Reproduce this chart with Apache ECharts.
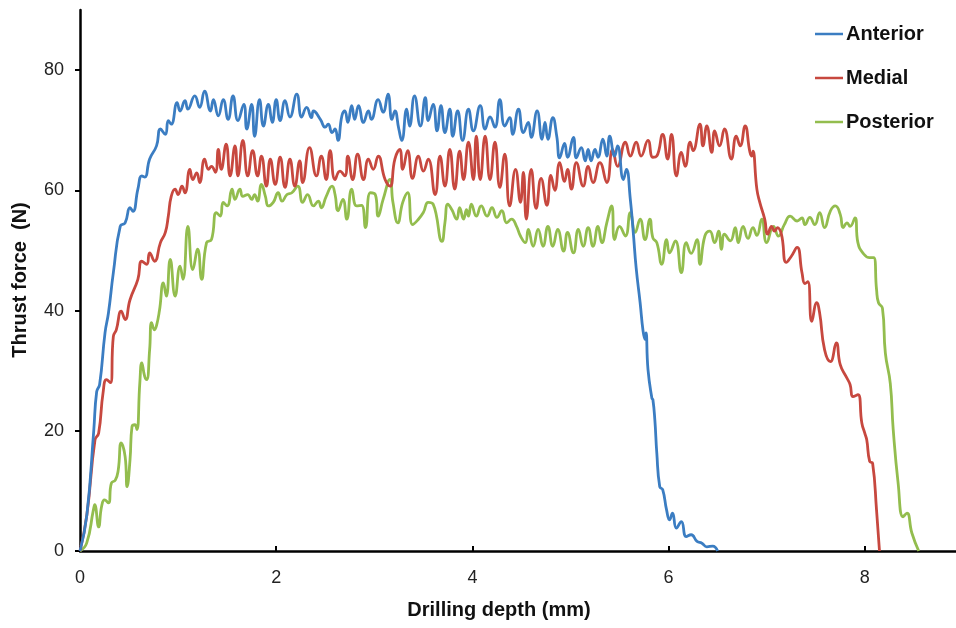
<!DOCTYPE html>
<html>
<head>
<meta charset="utf-8">
<script src="https://cdn.jsdelivr.net/npm/echarts@6/dist/echarts.min.js"></script>
<style>html,body{margin:0;padding:0;background:#fff}#c{width:956px;height:628px}</style>
</head>
<body>
<div id="c"></div>
<script>
var seriesNames = ['Anterior', 'Medial', 'Posterior'];
var xTicks = [0, 2, 4, 6, 8];
var yTicks = [0, 20, 40, 60, 80];

var anteriorDepth = [0,0.07,0.14,0.17,0.2,0.255,0.29,0.34,0.41,0.46,0.51,0.54,0.59,0.63,0.66,0.71,0.78,0.82,0.87,0.90,0.93,0.99,1.02,1.07,1.10,1.17,1.22,1.27,1.33,1.36,1.41,1.46,1.51,1.56,1.61,1.67,1.70,1.75,1.78,1.83,1.87,1.92,1.96,2.0,2.04,2.09,2.14,2.21,2.26,2.31,2.36,2.38,2.45,2.50,2.53,2.57,2.60,2.63,2.67,2.70,2.73,2.77,2.80,2.84,2.89,2.94,2.97,3.04,3.09,3.14,3.18,3.21,3.25,3.28,3.33,3.36,3.41,3.47,3.52,3.55,3.60,3.64,3.68,3.72,3.77,3.80,3.85,3.90,3.96,4.01,4.08,4.13,4.18,4.23,4.28,4.33,4.38,4.41,4.47,4.52,4.57,4.60,4.66,4.71,4.74,4.77,4.82,4.86,4.89,4.94,4.97,5.03,5.06,5.11,5.15,5.18,5.21,5.25,5.28,5.33,5.37,5.40,5.45,5.48,5.54,5.57,5.61,5.64,5.67,5.71,5.74,5.76,5.77,5.79,5.83,5.84,5.86,5.88,5.91,5.94,5.98,6.01,6.04,6.08,6.13,6.18,6.23,6.29,6.34,6.39,6.45,6.50];
var anteriorForce = [0,6,20,26.5,27.7,36.3,39.6,46.3,54,54.6,57.1,56.5,60.2,62.4,62.2,65.2,67.4,70.2,69.3,71.6,71,74.6,73.2,74.9,73.5,75.7,73.8,76.5,73.2,75.1,72.4,75.1,71.8,75.7,71.6,74.3,70.2,74.3,69,75.1,70.7,74.3,71.3,75.1,71.6,74.9,72.2,76,72.2,73.8,72.1,73.2,71.8,70.5,71,69.6,70.2,68.3,72.4,73.2,71.3,74.1,71.8,74.1,71.3,73.2,71.8,75.1,73,76,71.8,73.2,70.2,68.3,73.5,70.7,75.7,70.7,75.4,71.6,74.3,69.9,74.1,69.6,73.5,69,73.2,68.3,73.5,69.9,74.1,70.2,72.2,70.5,75.1,70.7,72.1,69.3,73.5,69.6,71.3,68.8,73.2,68.5,71.3,68.5,72.1,69,65.4,67.8,65.5,68.8,65.4,67.1,64.9,66.8,64.9,66.8,65.5,68.5,65.7,69,65.7,67.4,61.8,63.5,58.5,53,47,41.3,36.6,35.2,36.3,30.2,25.4,25.2,21.8,16.3,10.7,10.2,6.8,5.2,6.3,3.8,4.9,2.4,2.7,1.6,1.3,0.7,0.8,0];

var medialDepth = [0,0.07,0.153,0.19,0.235,0.27,0.31,0.34,0.37,0.42,0.46,0.51,0.59,0.63,0.68,0.71,0.76,0.82,0.87,0.90,0.93,0.97,1.0,1.04,1.07,1.12,1.15,1.19,1.22,1.27,1.31,1.34,1.38,1.41,1.44,1.49,1.53,1.58,1.61,1.66,1.71,1.76,1.81,1.85,1.90,1.94,1.99,2.04,2.09,2.14,2.19,2.24,2.27,2.34,2.41,2.46,2.51,2.55,2.60,2.65,2.70,2.73,2.78,2.83,2.89,2.94,2.99,3.04,3.11,3.16,3.21,3.26,3.29,3.34,3.39,3.45,3.50,3.55,3.62,3.67,3.72,3.77,3.82,3.87,3.91,3.96,4.01,4.04,4.08,4.13,4.18,4.23,4.28,4.33,4.38,4.44,4.49,4.52,4.55,4.60,4.65,4.70,4.76,4.80,4.84,4.89,4.94,4.97,5.01,5.06,5.13,5.18,5.23,5.30,5.37,5.43,5.48,5.56,5.61,5.67,5.72,5.79,5.84,5.88,5.94,5.99,6.03,6.08,6.13,6.17,6.22,6.25,6.32,6.35,6.39,6.44,6.47,6.52,6.57,6.64,6.69,6.73,6.78,6.83,6.85,6.86,6.90,6.93,6.98,7.01,7.05,7.08,7.11,7.15,7.20,7.25,7.31,7.36,7.39,7.42,7.46,7.51,7.54,7.59,7.65,7.71,7.75,7.81,7.85,7.88,7.93,7.97,8.00,8.02,8.05,8.08,8.12,8.15];
var medialForce = [0,6,18.5,19.6,26.3,28.5,28,35.7,36.8,39.9,38.5,41.8,45.2,48.2,47.7,49.6,48.2,51.3,53,55.7,59,60.2,59.3,60.7,59.6,63.5,61.8,62.9,61.3,65.2,63.5,64,63,66.8,63.5,67.7,62.4,67.4,62.4,68.3,62.4,66.6,62.4,65.7,60.7,65.2,61,65.5,60.5,65.2,60.7,64.9,61.3,67.1,62.4,65.7,61.8,66.6,61.8,63.2,62.4,65.7,61.8,66,61.8,65.2,63.5,65.7,61.8,60.7,65.2,66.8,63.5,66.6,62,65.7,63.2,65.2,59.3,65.7,60.7,66.8,60.2,66.5,61.8,68,61.8,69,61.8,69,61.8,68,60.5,66,57.4,63.5,58,63,55.2,63.5,57,62,57.5,62.5,60,64.6,61.5,63.5,60.2,64.6,60.7,64,61.3,64.6,61.3,66.8,64,68,65.7,68,65.7,68.3,65.5,65.7,69.3,65.2,69.3,62.4,66.3,64,68,66.6,71,67.4,70.7,66.3,69.9,67.4,70.2,65.2,69,67.4,70.7,66.3,65.7,66.5,60.2,58,55.2,52.7,54,53.2,53.8,52.7,48,49,50.5,46.3,44.5,44.8,38.2,41.3,39.6,33.5,31.5,34.6,31,29,27.7,25.7,26,21.3,19.6,18.5,14.9,14.6,6.8,0];

var posteriorDepth = [0,0.068,0.136,0.15,0.19,0.22,0.25,0.29,0.32,0.36,0.39,0.42,0.46,0.48,0.51,0.53,0.56,0.58,0.61,0.63,0.66,0.68,0.71,0.73,0.76,0.78,0.81,0.85,0.88,0.92,0.97,1.02,1.05,1.10,1.15,1.20,1.24,1.29,1.34,1.39,1.43,1.46,1.50,1.55,1.58,1.63,1.66,1.71,1.75,1.78,1.81,1.85,1.89,1.92,1.97,2.02,2.06,2.11,2.16,2.22,2.27,2.32,2.38,2.43,2.46,2.51,2.57,2.60,2.63,2.68,2.72,2.77,2.82,2.87,2.91,2.96,3.01,3.04,3.09,3.16,3.19,3.24,3.29,3.34,3.39,3.44,3.50,3.55,3.60,3.69,3.72,3.75,3.79,3.84,3.87,3.91,3.94,3.96,3.99,4.04,4.09,4.15,4.20,4.25,4.30,4.35,4.40,4.45,4.49,4.54,4.57,4.62,4.67,4.72,4.77,4.82,4.87,4.93,4.97,5.03,5.08,5.13,5.18,5.23,5.28,5.32,5.37,5.42,5.45,5.50,5.56,5.61,5.66,5.71,5.76,5.81,5.84,5.88,5.93,5.98,6.01,6.07,6.13,6.18,6.23,6.29,6.32,6.37,6.42,6.47,6.51,6.54,6.57,6.63,6.68,6.71,6.76,6.81,6.86,6.90,6.95,7.00,7.07,7.12,7.18,7.24,7.31,7.36,7.39,7.44,7.49,7.54,7.59,7.65,7.70,7.75,7.78,7.82,7.85,7.90,7.93,7.98,8.05,8.09,8.12,8.14,8.18,8.21,8.26,8.29,8.34,8.39,8.43,8.48,8.55];
var posteriorForce = [0,1.3,6.8,7.7,4,7.4,8.5,8,11.3,11.8,13.5,18,15.7,10.7,15.2,20.7,21,20.2,28,31.3,29,28.5,33.5,38,36.8,37.5,40,44.6,42.4,48.5,42.4,47.4,45.2,54,46.8,50.2,45.2,51.3,51.8,56.3,55.7,58,57.4,60.2,58.5,60.2,59,59.3,58.5,59.3,58.2,61,59,57.4,58,59.6,58.2,59.3,59.6,60.7,58,59.3,57.4,58.2,57.1,59,60.7,59.3,56.6,58.5,55.2,60.2,57.4,57.5,53.8,59.6,59.3,55.7,58.5,61.8,58,54.6,58,59.6,54.3,55,56.3,58,57.7,51.5,54.6,57.7,56.8,55.2,57.1,55.2,56.8,55.7,57.7,55.7,57.4,55.7,57.1,55.5,56.6,54.6,55.2,54,52.4,51.3,53.5,50.7,53.5,50.7,54,50.7,53.5,49.9,53,49.6,53.5,50.7,53.8,50.7,54,51.3,54.6,57.4,51.8,54,52.4,56.3,53,55.2,51.8,55.2,52.1,51.3,47.7,51.8,49.6,51.6,46.3,51.3,49.5,51.8,47.7,52.4,53.2,51.3,53.2,50.2,52.7,51.6,53.8,51.3,54,52,53.8,52.5,55.2,51.3,54,52.4,54.3,55.7,54.9,55.4,54.3,55.5,54.3,56.3,53.8,56.6,57.4,56,53.8,54.6,54,55.4,51.3,49.6,48.8,48.8,43.5,41.3,40.4,32.9,27.9,20.2,11.3,5.7,6.3,3,0];

var colors = ['#3B7DC2', '#C7483F', '#93BD4E'];

function pairs(xs, ys) {
  var out = [];
  for (var i = 0; i < xs.length; i++) out.push([xs[i], ys[i]]);
  return out;
}

var seriesData = [
  pairs(anteriorDepth, anteriorForce),
  pairs(medialDepth, medialForce),
  pairs(posteriorDepth, posteriorForce)
];

var chart = echarts.init(document.getElementById('c'), null, {renderer: 'canvas'});
var font = 'Arial, "Liberation Sans", Helvetica, sans-serif';

chart.setOption({
  animation: false,
  backgroundColor: '#ffffff',
  color: colors,
  grid: {left: 80, right: 0, top: 10, bottom: 77, containLabel: false},
  legend: {
    orient: 'vertical',
    left: 810,
    top: 19,
    itemWidth: 28,
    itemHeight: 14,
    itemGap: 24,
    icon: 'path://M0,6 L28,6 L28,8.5 L0,8.5 Z',
    data: seriesNames,
    textStyle: {fontFamily: font, fontSize: 20, fontWeight: 'bold', color: '#111', padding: [0, 0, 0, -2]}
  },
  xAxis: {
    type: 'value',
    min: 0,
    max: 8.93,
    interval: 2,
    splitLine: {show: false},
    axisLine: {lineStyle: {color: '#000', width: 2.5}},
    axisTick: {show: true, inside: true, length: 5, lineStyle: {color: '#000', width: 2}, customValues: xTicks},
    axisLabel: {fontFamily: font, fontSize: 18, color: '#222', margin: 18, customValues: xTicks}
  },
  yAxis: {
    type: 'value',
    min: 0,
    max: 90,
    interval: 20,
    splitLine: {show: false},
    axisLine: {show: true, lineStyle: {color: '#000', width: 2.5}},
    axisTick: {show: true, inside: false, length: 5, lineStyle: {color: '#000', width: 2}, customValues: yTicks},
    axisLabel: {fontFamily: font, fontSize: 18, color: '#222', margin: 16, customValues: yTicks}
  },
  graphic: [
    {type: 'text', x: 499, y: 610,
     style: {text: 'Drilling depth (mm)', fontFamily: font, fontSize: 20, fontWeight: 'bold', fill: '#111', align: 'center', verticalAlign: 'middle'}},
    {type: 'text', x: 20, y: 280, rotation: Math.PI / 2,
     style: {text: 'Thrust force  (N)', fontFamily: font, fontSize: 20, fontWeight: 'bold', fill: '#111', align: 'center', verticalAlign: 'middle'}}
  ],
  series: seriesNames.map(function (name, i) {
    return {
      name: name,
      type: 'line',
      data: seriesData[i],
      symbol: 'none',
      smooth: 0.5,
      lineStyle: {color: colors[i], width: 2.8},
      itemStyle: {color: colors[i]},
      z: 3 - i
    };
  })
});
</script>
</body>
</html>
